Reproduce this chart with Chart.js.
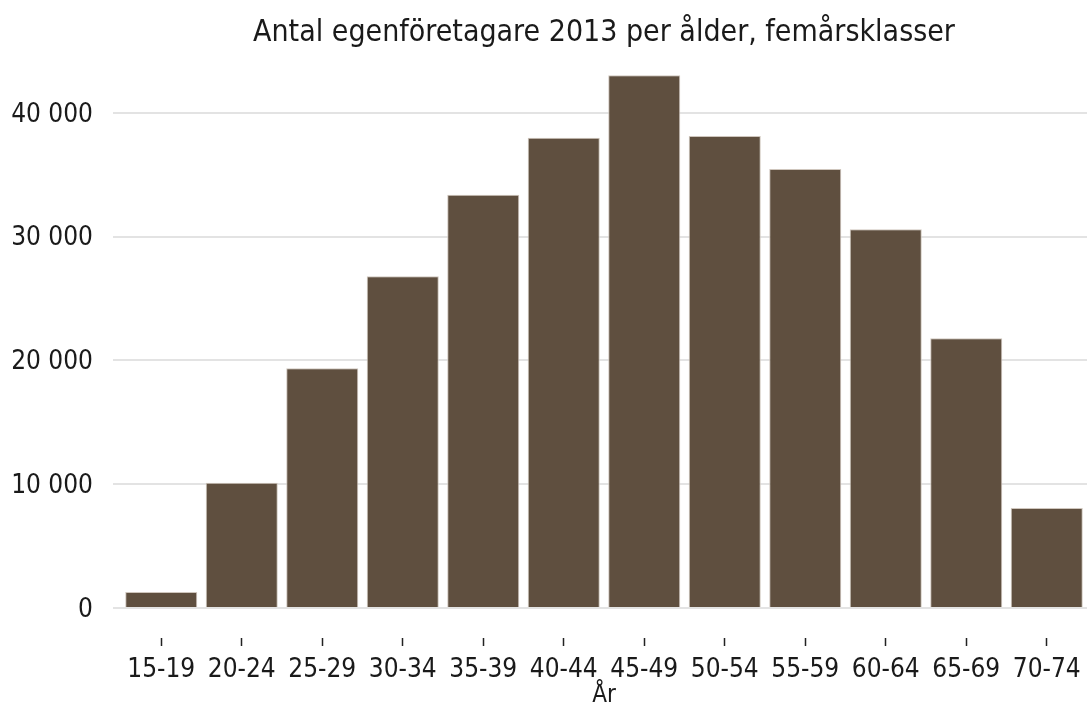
<!DOCTYPE html>
<html>
<head>
<meta charset="utf-8">
<script src="https://cdn.jsdelivr.net/npm/chart.js@4"></script>
<style>
  html, body { margin: 0; padding: 0; background: #fff; }
  #wrap { width: 1092px; height: 708px; }
</style>
</head>
<body>
<div id="wrap"><canvas id="chart"></canvas></div>
<script>
// data
const ageGroups = ['15-19', '20-24', '25-29', '30-34', '35-39', '40-44',
                   '45-49', '50-54', '55-59', '60-64', '65-69', '70-74'];
const selfEmployed = [1300, 10120, 19370, 26800, 33390, 37990,
                      43050, 38130, 35460, 30590, 21790, 8070];
const yTicks = [0, 10000, 20000, 30000, 40000];

const FONT = "'DejaVu Sans Condensed', 'DejaVu Sans', sans-serif";

function fmt(v) {
  return String(v).replace(/\B(?=(\d{3})+(?!\d))/g, ' ');
}

const ctx = document.getElementById('chart').getContext('2d');
new Chart(ctx, {
  type: 'bar',
  data: {
    labels: ageGroups,
    datasets: [{
      data: selfEmployed,
      backgroundColor: '#5f4f3f',
      borderColor: '#cfc6bd',
      borderWidth: 1,
      barPercentage: 0.895,
      categoryPercentage: 1
    }]
  },
  options: {
    responsive: true,
    maintainAspectRatio: false,
    animation: false,
    layout: { padding: { left: 0, right: 5, top: 0, bottom: 0 } },
    plugins: {
      legend: { display: false },
      tooltip: { enabled: false },
      title: {
        display: true,
        fullSize: false,
        text: 'Antal egenföretagare 2013 per ålder, femårsklasser',
        color: '#1a1a1a',
        font: { family: FONT, size: 30, weight: 'normal', lineHeight: 1.2 },
        padding: { top: 15, bottom: 0 }
      }
    },
    scales: {
      x: {
        border: { display: false },
        grid: {
          offset: false,
          drawOnChartArea: false,
          drawTicks: true,
          tickLength: 38,
          tickColor: '#222',
          tickWidth: 1.5,
          tickBorderDash: [0, 30, 8, 200]
        },
        ticks: {
          color: '#1a1a1a',
          padding: 9,
          maxRotation: 0,
          font: { family: FONT, size: 26 }
        },
        title: {
          display: true,
          text: 'År',
          color: '#1a1a1a',
          font: { family: FONT, size: 24, lineHeight: 1.05 },
          padding: { top: 0, bottom: 0 }
        },
        afterFit(scale) { scale.height = 100; }
      },
      y: {
        min: 0,
        max: 45000,
        border: { display: false },
        grid: {
          color: '#e3e3e3',
          lineWidth: 2,
          tickLength: 8
        },
        afterBuildTicks(scale) {
          scale.ticks = yTicks.map(v => ({ value: v }));
        },
        ticks: {
          color: '#1a1a1a',
          padding: 20,
          labelOffset: 2,
          font: { family: FONT, size: 26 },
          callback: v => fmt(v)
        },
        afterFit(scale) { scale.width = 121; }
      }
    }
  }
});
</script>
</body>
</html>
